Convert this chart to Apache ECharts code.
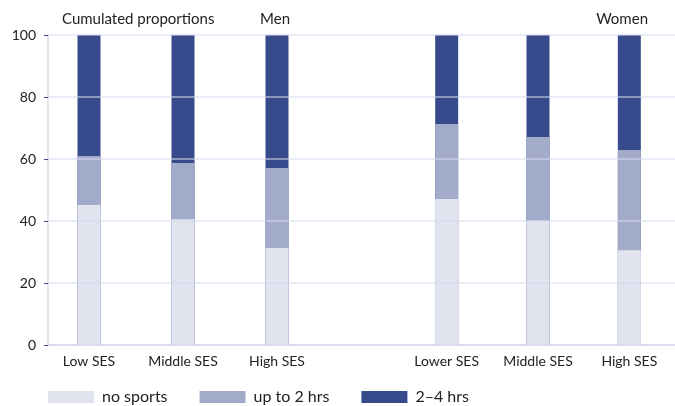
<!DOCTYPE html>
<html><head><meta charset="utf-8">
<script src="https://cdn.jsdelivr.net/npm/echarts@6/dist/echarts.min.js"></script>
<style>html,body{margin:0;padding:0;background:#fff}#c{width:675px;height:406px}</style>
</head><body><div id="c"></div>
<script>
// Data (cumulated proportions, %)
const menCategories = ['Low SES', 'Middle SES', 'High SES'];
const womenCategories = ['Lower SES', 'Middle SES', 'High SES'];
const seriesNames = ['no sports', 'up to 2 hrs', '2\u20134 hrs'];
const menNoSports = [45.2, 40.6, 31.3];
const menUpTo2Cum = [61.0, 58.7, 57.1];
const menTwoToFourCum = [100, 100, 100];
const womenNoSports = [47.1, 40.1, 30.6];
const womenUpTo2Cum = [71.3, 67.1, 62.9];
const womenTwoToFourCum = [100, 100, 100];
const yTicks = [0, 20, 40, 60, 80, 100];

const colors = ['#e1e3ef', '#a2abc9', '#364a8c'];
const FONT = 'Lato';
const chart = echarts.init(document.getElementById('c'));

function bars(name, data, xi, color, z) {
  return { name, type: 'bar', xAxisIndex: xi, yAxisIndex: xi, data, barWidth: 23, barGap: '-100%',
    itemStyle: { color }, z, animation: false, silent: true };
}
const tStyle = { fontFamily: FONT, fontSize: 15, fontWeight: 'normal', color: '#222' };

chart.setOption({
  animation: false,
  textStyle: { fontFamily: FONT },
  title: [
    { text: 'Cumulated proportions', left: 62, top: 12, padding: 0, textStyle: tStyle },
    { text: 'Men', right: 675 - 290, top: 12, padding: 0, textStyle: tStyle },
    { text: 'Women', right: 675 - 648, top: 12, padding: 0, textStyle: tStyle }
  ],
  legend: {
    data: seriesNames, left: 48, top: 389, padding: 0, itemWidth: 46, itemHeight: 12, itemGap: 32,
    icon: 'rect', textStyle: { fontFamily: FONT, fontSize: 16, color: '#222', padding: [0, 0, 0, 3] }
  },
  grid: [
    { left: 48, right: 0, top: 35, bottom: 61 },
    { left: 42, width: 282, top: 35, bottom: 61 },
    { left: 401, width: 282, top: 35, bottom: 61 }
  ],
  xAxis: [
    { gridIndex: 0, type: 'value', min: 0, max: 1, axisLabel: { show: false }, splitLine: { show: false },
      axisTick: { show: false }, axisLine: { show: true, lineStyle: { color: '#d8dbec', width: 1.5 } } },
    { gridIndex: 1, type: 'category', data: menCategories, axisLine: { show: false }, axisTick: { show: false },
      axisLabel: { fontFamily: FONT, fontSize: 14, color: '#222', margin: 9 } },
    { gridIndex: 2, type: 'category', data: womenCategories, axisLine: { show: false }, axisTick: { show: false },
      axisLabel: { fontFamily: FONT, fontSize: 14, color: '#222', margin: 9 } }
  ],
  yAxis: [
    { gridIndex: 0, type: 'value', min: yTicks[0], max: yTicks[yTicks.length - 1], interval: 20, z: 5,
      axisLine: { show: true, lineStyle: { color: '#d8dbec', width: 1.5 } },
      axisTick: { show: true, length: 4, lineStyle: { color: '#364a8c' } },
      axisLabel: { fontFamily: FONT, fontSize: 14, color: '#222', margin: 12 },
      splitLine: { show: true, lineStyle: { color: 'rgba(214,217,238,0.7)', width: 1.5 } } },
    { gridIndex: 1, type: 'value', min: 0, max: 100, show: false },
    { gridIndex: 2, type: 'value', min: 0, max: 100, show: false }
  ],
  series: [
    bars(seriesNames[2], menTwoToFourCum, 1, colors[2], 2),
    bars(seriesNames[1], menUpTo2Cum, 1, colors[1], 3),
    bars(seriesNames[0], menNoSports, 1, colors[0], 4),
    bars(seriesNames[2], womenTwoToFourCum, 2, colors[2], 2),
    bars(seriesNames[1], womenUpTo2Cum, 2, colors[1], 3),
    bars(seriesNames[0], womenNoSports, 2, colors[0], 4)
  ]
});
</script></body></html>
